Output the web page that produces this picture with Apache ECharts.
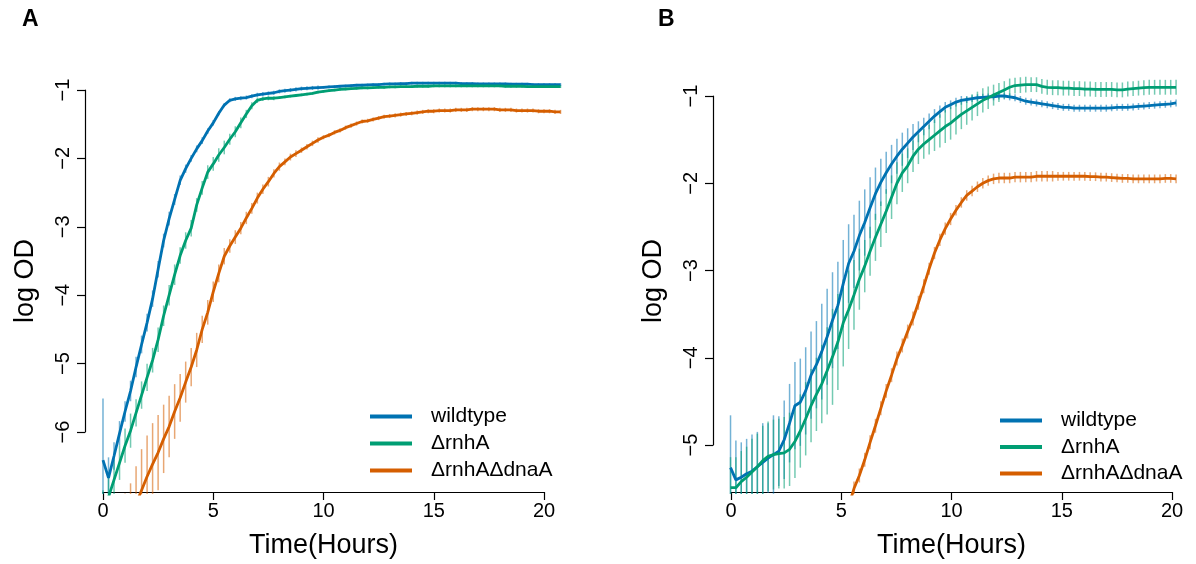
<!DOCTYPE html>
<html>
<head>
<meta charset="utf-8">
<script src="https://cdn.jsdelivr.net/npm/echarts@6/dist/echarts.min.js"></script>
<style>html,body{margin:0;padding:0;background:#fff;}#c{width:1196px;height:564px;}</style>
</head>
<body>
<div id="c"></div>
<script>
// ---- data ----
const seriesNames = ['wildtype', '\u0394rnhA', '\u0394rnhA\u0394dnaA'];
const xTicks = [0, 5, 10, 15, 20];
const time = [
  0, 0.25, 0.5, 0.75, 1, 1.25, 1.5, 1.75,
  2, 2.25, 2.5, 2.75, 3, 3.25, 3.5, 3.75,
  4, 4.25, 4.5, 4.75, 5, 5.25, 5.5, 5.75,
  6, 6.25, 6.5, 6.75, 7, 7.25, 7.5, 7.75,
  8, 8.25, 8.5, 8.75, 9, 9.25, 9.5, 9.75,
  10, 10.25, 10.5, 10.75, 11, 11.25, 11.5, 11.75,
  12, 12.25, 12.5, 12.75, 13, 13.25, 13.5, 13.75,
  14, 14.25, 14.5, 14.75, 15, 15.25, 15.5, 15.75,
  16, 16.25, 16.5, 16.75, 17, 17.25, 17.5, 17.75,
  18, 18.25, 18.5, 18.75, 19, 19.25, 19.5, 19.75,
  20, 20.25, 20.5, 20.75
];

// Panel A
const wtA = [
  -6.41, -6.67, -6.35, -6.02, -5.7, -5.4, -5.05, -4.72,
  -4.4, -4.05, -3.62, -3.2, -2.88, -2.6, -2.32, -2.15,
  -2.0, -1.86, -1.74, -1.6, -1.48, -1.34, -1.22, -1.15,
  -1.13, -1.12, -1.11, -1.09, -1.07, -1.06, -1.05, -1.04,
  -1.02, -1.01, -1.0, -0.99, -0.98, -0.975, -0.97, -0.965,
  -0.96, -0.955, -0.95, -0.945, -0.94, -0.935, -0.93, -0.93,
  -0.925, -0.92, -0.92, -0.915, -0.91, -0.91, -0.905, -0.905,
  -0.9, -0.9, -0.9, -0.9, -0.9, -0.9, -0.9, -0.9,
  -0.9, -0.905, -0.905, -0.905, -0.91, -0.91, -0.91, -0.91,
  -0.91, -0.91, -0.915, -0.915, -0.915, -0.915, -0.92, -0.92,
  -0.92, -0.92, -0.92, -0.92
];
const wtErrA = [
  0.9, 0.3, 0.2, 0.18, 0.15, 0.15, 0.15, 0.13,
  0.13, 0.12, 0.12, 0.1, 0.1, 0.08, 0.07, 0.06,
  0.05, 0.05, 0.05, 0.04, 0.04, 0.03, 0.03, 0.03,
  0.03, 0.03, 0.03, 0.03, 0.03, 0.03, 0.03, 0.03,
  0.03, 0.03, 0.03, 0.03, 0.03, 0.03, 0.03, 0.03,
  0.02, 0.02, 0.02, 0.02, 0.02, 0.02, 0.02, 0.02,
  0.02, 0.02, 0.02, 0.02, 0.02, 0.02, 0.02, 0.02,
  0.02, 0.02, 0.02, 0.02, 0.02, 0.02, 0.02, 0.02,
  0.02, 0.02, 0.02, 0.02, 0.02, 0.02, 0.02, 0.02,
  0.02, 0.02, 0.02, 0.02, 0.02, 0.02, 0.02, 0.02,
  0.02, 0.02, 0.02, 0.02
];
const rnhA_A = [
  -7.2, -6.95, -6.7, -6.45, -6.2, -5.98, -5.72, -5.46,
  -5.2, -4.95, -4.65, -4.3, -4.0, -3.7, -3.42, -3.2,
  -3.02, -2.68, -2.43, -2.2, -2.08, -1.95, -1.84, -1.72,
  -1.61, -1.48, -1.35, -1.23, -1.15, -1.13, -1.12, -1.12,
  -1.11, -1.1, -1.09, -1.08, -1.07, -1.06, -1.05, -1.03,
  -1.02, -1.01, -1.0, -0.99, -0.985, -0.98, -0.975, -0.97,
  -0.97, -0.965, -0.96, -0.96, -0.955, -0.955, -0.95, -0.95,
  -0.95, -0.945, -0.945, -0.945, -0.94, -0.94, -0.94, -0.94,
  -0.94, -0.94, -0.94, -0.94, -0.94, -0.94, -0.94, -0.94,
  -0.94, -0.945, -0.945, -0.945, -0.945, -0.95, -0.95, -0.95,
  -0.95, -0.95, -0.95, -0.95
];
const rnhAErrA = [
  0.35, 0.3, 0.3, 0.25, 0.25, 0.25, 0.2, 0.2,
  0.2, 0.18, 0.18, 0.15, 0.15, 0.15, 0.12, 0.12,
  0.12, 0.1, 0.1, 0.1, 0.1, 0.1, 0.1, 0.08,
  0.08, 0.08, 0.06, 0.05, 0.04, 0.03, 0.03, 0.03,
  0.02, 0.02, 0.02, 0.02, 0.02, 0.02, 0.02, 0.02,
  0.02, 0.02, 0.02, 0.02, 0.02, 0.02, 0.02, 0.02,
  0.02, 0.02, 0.02, 0.02, 0.02, 0.02, 0.02, 0.02,
  0.02, 0.02, 0.02, 0.02, 0.02, 0.02, 0.02, 0.02,
  0.02, 0.02, 0.02, 0.02, 0.02, 0.02, 0.02, 0.02,
  0.02, 0.02, 0.02, 0.02, 0.02, 0.02, 0.02, 0.02,
  0.02, 0.02, 0.02, 0.02
];
const dnaA_A = [
  -8.2, -8.0, -7.8, -7.6, -7.45, -7.25, -7.05, -6.85,
  -6.65, -6.47, -6.3, -6.1, -5.92, -5.7, -5.5, -5.27,
  -5.05, -4.8, -4.5, -4.25, -3.95, -3.68, -3.43, -3.28,
  -3.15, -3.02, -2.87, -2.73, -2.58, -2.45, -2.34, -2.22,
  -2.12, -2.05, -1.98, -1.93, -1.88, -1.83, -1.78, -1.73,
  -1.69, -1.66, -1.62, -1.59, -1.55, -1.52, -1.49, -1.46,
  -1.45, -1.43, -1.41, -1.39, -1.38, -1.37, -1.36, -1.35,
  -1.34, -1.33, -1.32, -1.31, -1.31, -1.3, -1.3, -1.3,
  -1.29, -1.29, -1.29, -1.28, -1.28, -1.28, -1.28, -1.28,
  -1.29, -1.29, -1.29, -1.3, -1.3, -1.3, -1.3, -1.31,
  -1.31, -1.31, -1.32, -1.32
];
const dnaErrA = [
  0.5, 0.5, 0.5, 0.5, 0.55, 0.5, 0.55, 0.6,
  0.6, 0.6, 0.55, 0.5, 0.45, 0.4, 0.35, 0.3,
  0.28, 0.25, 0.2, 0.18, 0.15, 0.13, 0.12, 0.1,
  0.1, 0.09, 0.09, 0.08, 0.08, 0.07, 0.07, 0.06,
  0.06, 0.05, 0.05, 0.05, 0.04, 0.04, 0.04, 0.04,
  0.03, 0.03, 0.03, 0.03, 0.03, 0.03, 0.03, 0.03,
  0.03, 0.03, 0.03, 0.03, 0.03, 0.03, 0.03, 0.03,
  0.03, 0.03, 0.03, 0.03, 0.03, 0.03, 0.03, 0.03,
  0.03, 0.03, 0.03, 0.03, 0.03, 0.03, 0.03, 0.03,
  0.03, 0.03, 0.03, 0.03, 0.03, 0.03, 0.03, 0.03,
  0.03, 0.03, 0.03, 0.03
];

// Panel B
const wtB = [
  -5.26, -5.4, -5.37, -5.33, -5.3, -5.25, -5.2, -5.15,
  -5.11, -5.07, -4.94, -4.75, -4.55, -4.51, -4.38, -4.2,
  -4.08, -3.93, -3.76, -3.57, -3.4, -3.15, -2.92, -2.78,
  -2.6, -2.45, -2.28, -2.12, -1.99, -1.88, -1.78, -1.69,
  -1.61, -1.54, -1.47, -1.41, -1.35, -1.29, -1.23, -1.18,
  -1.13, -1.1, -1.07, -1.05, -1.04, -1.03, -1.02, -1.015,
  -1.01, -1.01, -1.0, -1.0, -1.01, -1.02, -1.04, -1.06,
  -1.07, -1.08, -1.09, -1.1, -1.11, -1.12, -1.13, -1.13,
  -1.14, -1.14, -1.14, -1.14, -1.14, -1.14, -1.14, -1.135,
  -1.13, -1.13, -1.13, -1.125, -1.12, -1.115, -1.11, -1.105,
  -1.1, -1.095, -1.09, -1.08
];
const wtErrB = [
  0.6, 0.45, 0.4, 0.4, 0.42, 0.4, 0.45, 0.4,
  0.45, 0.4, 0.45, 0.45, 0.5, 0.5, 0.5, 0.5,
  0.5, 0.55, 0.55, 0.55, 0.5, 0.5, 0.45, 0.42,
  0.4, 0.38, 0.35, 0.3, 0.27, 0.24, 0.22, 0.2,
  0.19, 0.17, 0.15, 0.12, 0.1, 0.09, 0.08, 0.07,
  0.06, 0.05, 0.05, 0.05, 0.04, 0.04, 0.04, 0.04,
  0.04, 0.04, 0.04, 0.04, 0.04, 0.04, 0.04, 0.04,
  0.04, 0.04, 0.04, 0.04, 0.04, 0.04, 0.04, 0.04,
  0.04, 0.04, 0.04, 0.04, 0.04, 0.04, 0.04, 0.04,
  0.04, 0.04, 0.04, 0.04, 0.04, 0.04, 0.04, 0.04,
  0.04, 0.04, 0.04, 0.04
];
const rnhA_B = [
  -5.49, -5.49, -5.42, -5.37, -5.31, -5.25, -5.18, -5.13,
  -5.11, -5.1, -5.09, -5.05, -4.96, -4.84, -4.7, -4.55,
  -4.42, -4.3, -4.15, -3.99, -3.82, -3.6, -3.45, -3.28,
  -3.1, -2.95, -2.78, -2.62, -2.47, -2.32, -2.16, -2.0,
  -1.88, -1.8, -1.69, -1.61, -1.55, -1.5, -1.45, -1.4,
  -1.35, -1.31, -1.26, -1.21, -1.17, -1.13, -1.09, -1.05,
  -1.02, -0.99, -0.96, -0.93, -0.9, -0.88, -0.875, -0.87,
  -0.87, -0.87, -0.89, -0.9, -0.905, -0.905, -0.91, -0.91,
  -0.915, -0.915, -0.92, -0.92, -0.925, -0.925, -0.925, -0.925,
  -0.93, -0.93, -0.92, -0.915, -0.91, -0.905, -0.9, -0.9,
  -0.9, -0.9, -0.9, -0.9
];
const rnhAErrB = [
  0.35, 0.35, 0.35, 0.35, 0.38, 0.38, 0.4, 0.4,
  0.4, 0.4, 0.41, 0.42, 0.42, 0.42, 0.42, 0.42,
  0.42, 0.45, 0.5, 0.55, 0.55, 0.5, 0.45, 0.4,
  0.35, 0.3, 0.28, 0.27, 0.26, 0.25, 0.25, 0.24,
  0.22, 0.2, 0.18, 0.17, 0.17, 0.17, 0.18, 0.19,
  0.19, 0.19, 0.18, 0.17, 0.16, 0.15, 0.14, 0.14,
  0.13, 0.12, 0.11, 0.1, 0.1, 0.09, 0.09, 0.09,
  0.085, 0.085, 0.085, 0.085, 0.085, 0.085, 0.085, 0.085,
  0.085, 0.085, 0.085, 0.085, 0.085, 0.085, 0.085, 0.085,
  0.085, 0.085, 0.085, 0.085, 0.085, 0.085, 0.085, 0.085,
  0.085, 0.085, 0.085, 0.085
];
const dnaA_B = [
  null, null, null, null, null, null, null, null,
  null, null, null, null, null, null, null, null,
  null, null, -6.5, -6.3, -6.1, -5.9, -5.7, -5.5,
  -5.35, -5.17, -4.97, -4.78, -4.58, -4.38, -4.2, -4.01,
  -3.86, -3.7, -3.55, -3.37, -3.18, -2.98, -2.8, -2.65,
  -2.52, -2.41, -2.31, -2.22, -2.14, -2.09, -2.04, -2.0,
  -1.97, -1.95, -1.94, -1.94, -1.94, -1.93, -1.93, -1.93,
  -1.93, -1.92, -1.92, -1.92, -1.92, -1.92, -1.92, -1.92,
  -1.92, -1.92, -1.92, -1.925, -1.925, -1.93, -1.93, -1.935,
  -1.94, -1.945, -1.945, -1.95, -1.95, -1.95, -1.95, -1.95,
  -1.95, -1.945, -1.945, -1.95
];
const dnaErrB = [
  null, null, null, null, null, null, null, null,
  null, null, null, null, null, null, null, null,
  null, null, 0.08, 0.08, 0.08, 0.08, 0.08, 0.08,
  0.08, 0.08, 0.08, 0.08, 0.08, 0.08, 0.08, 0.08,
  0.08, 0.08, 0.08, 0.08, 0.08, 0.07, 0.07, 0.07,
  0.07, 0.07, 0.06, 0.06, 0.06, 0.06, 0.06, 0.06,
  0.06, 0.06, 0.06, 0.06, 0.06, 0.06, 0.06, 0.06,
  0.06, 0.06, 0.06, 0.06, 0.06, 0.05, 0.05, 0.05,
  0.05, 0.05, 0.05, 0.05, 0.05, 0.05, 0.05, 0.05,
  0.05, 0.05, 0.05, 0.05, 0.05, 0.05, 0.05, 0.05,
  0.05, 0.05, 0.05, 0.05
];

// ---- chart ----
const colors = ['#0072B2', '#009E73', '#D55E00'];
const FONT = '"Liberation Sans", Arial, Helvetica, sans-serif';
const chart = echarts.init(document.getElementById('c'), null, {renderer: 'canvas'});
const minus = v => String(v).replace('-', '\u2212');

function linePts(vals) {
  const out = [];
  time.forEach((t, i) => { if (vals[i] != null) out.push([t, vals[i]]); });
  return out;
}
function errPts(vals, errs) {
  const out = [];
  time.forEach((t, i) => {
    if (vals[i] != null && errs[i] != null) out.push([t, vals[i] - errs[i], vals[i] + errs[i]]);
  });
  return out;
}
function errSeries(vals, errs, color, axisIdx) {
  return {
    type: 'custom', xAxisIndex: axisIdx, yAxisIndex: axisIdx, clip: true, silent: true,
    encode: {x: 0, y: [1, 2]},
    data: errPts(vals, errs),
    z: 2,
    renderItem: function (params, api) {
      const p1 = api.coord([api.value(0), api.value(1)]);
      const p2 = api.coord([api.value(0), api.value(2)]);
      return {type: 'line', shape: {x1: p1[0], y1: p1[1], x2: p2[0], y2: p2[1]},
        style: {stroke: color, lineWidth: 1.5, opacity: 0.55}};
    }
  };
}
function lineSeries(name, vals, color, axisIdx) {
  return {
    name: name, type: 'line', xAxisIndex: axisIdx, yAxisIndex: axisIdx,
    data: linePts(vals), showSymbol: false, symbol: 'none', clip: true, z: 3,
    lineStyle: {color: color, width: 2.8}, itemStyle: {color: color}, animation: false
  };
}

const panels = [
  {vals: [wtA, rnhA_A, dnaA_A], errs: [wtErrA, rnhAErrA, dnaErrA], yMin: -6.906, yMax: -0.678,
   dataLeft: 85, axLeft: 103, yTop: 90, yH: 342, yTickMin: -6, yTickMax: -1},
  {vals: [wtB, rnhA_B, dnaA_B], errs: [wtErrB, rnhAErrB, dnaErrB], yMin: -5.562, yMax: -0.679,
   dataLeft: 713, axLeft: 731, yTop: 96, yH: 349, yTickMin: -5, yTickMax: -1}
];

const grid = [], xAxis = [], yAxis = [], series = [];
panels.forEach((p, pi) => {
  const g0 = grid.length;
  // data grid
  grid.push({left: p.dataLeft, top: 68, width: 496, height: 426});
  xAxis.push({gridIndex: g0, type: 'value', min: -0.816, max: 21.678, show: false});
  yAxis.push({gridIndex: g0, type: 'value', min: p.yMin, max: p.yMax,
    name: 'log OD', nameLocation: 'middle', nameGap: 46,
    nameTextStyle: {fontSize: 27, fontFamily: FONT, color: '#000'},
    axisLine: {show: false}, axisTick: {show: false}, axisLabel: {show: false}, splitLine: {show: false}});
  // x axis display grid
  grid.push({left: p.axLeft, top: 68, width: 441, height: 426});
  xAxis.push({gridIndex: g0 + 1, type: 'value', min: xTicks[0], max: xTicks[xTicks.length - 1], interval: 5,
    name: 'Time(Hours)', nameLocation: 'middle', nameGap: 40,
    nameTextStyle: {fontSize: 27, fontFamily: FONT, color: '#000'},
    axisLine: {show: true, lineStyle: {color: '#000', width: 1.2}},
    axisTick: {show: true, length: 8, inside: false, lineStyle: {color: '#000', width: 1.2}},
    axisLabel: {fontSize: 20, fontFamily: FONT, color: '#000', margin: 9, formatter: minus},
    splitLine: {show: false}});
  yAxis.push({gridIndex: g0 + 1, type: 'value', show: false});
  // y axis display grid
  grid.push({left: p.dataLeft, top: p.yTop, width: 441, height: p.yH});
  xAxis.push({gridIndex: g0 + 2, type: 'value', show: false});
  yAxis.push({gridIndex: g0 + 2, type: 'value', min: p.yTickMin, max: p.yTickMax, interval: 1,
    axisLine: {show: true, lineStyle: {color: '#000', width: 1.2}},
    axisTick: {show: true, length: 8, inside: false, lineStyle: {color: '#000', width: 1.2}},
    axisLabel: {fontSize: 20, fontFamily: FONT, color: '#000', rotate: 90, margin: 12, formatter: minus},
    splitLine: {show: false}});
  // series
  for (let k = 0; k < 3; k++) series.push(errSeries(p.vals[k], p.errs[k], colors[k], g0));
  for (let k = 0; k < 3; k++) series.push(lineSeries(seriesNames[k], p.vals[k], colors[k], g0));
});

const legendBase = {
  orient: 'vertical', icon: 'rect', itemWidth: 42, itemHeight: 4, itemGap: 6,
  data: seriesNames, selectedMode: false,
  textStyle: {fontSize: 21, fontFamily: FONT, color: '#000', lineHeight: 21, padding: [0, 0, 0, 14]}
};

chart.setOption({
  animation: false,
  backgroundColor: '#fff',
  title: [
    {text: 'A', left: 22, top: 8, padding: 0, textStyle: {fontSize: 23, fontWeight: 'bold', fontFamily: FONT, color: '#000'}},
    {text: 'B', left: 658, top: 8, padding: 0, textStyle: {fontSize: 23, fontWeight: 'bold', fontFamily: FONT, color: '#000'}}
  ],
  legend: [
    Object.assign({}, legendBase, {left: 365, top: 401}),
    Object.assign({}, legendBase, {left: 995, top: 405, itemGap: 5.5})
  ],
  grid: grid, xAxis: xAxis, yAxis: yAxis, series: series
});
</script>
</body>
</html>
